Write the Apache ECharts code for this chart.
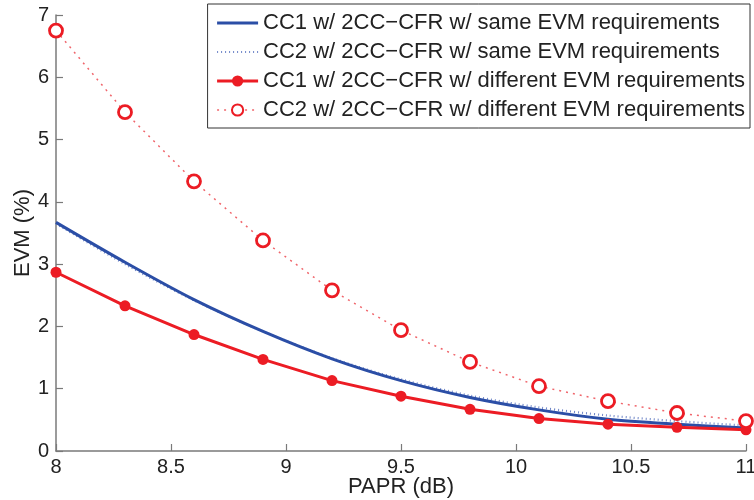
<!DOCTYPE html>
<html>
<head>
<meta charset="utf-8">
<script src="https://cdn.jsdelivr.net/npm/echarts@6/dist/echarts.min.js"></script>
<style>
  html, body { margin: 0; padding: 0; background: #fff; }
  #chart { width: 754px; height: 500px; }
</style>
</head>
<body>
<div id="chart"></div>
<script>
// PAPR target values (dB)
const papr = [8, 8.3, 8.6, 8.9, 9.2, 9.5, 9.8, 10.1, 10.4, 10.7, 11];

// EVM (%) per component carrier
const cc1Same = [3.67, 3.03, 2.43, 1.92, 1.48, 1.13, 0.86, 0.66, 0.51, 0.43, 0.37];
const cc2Same = [3.65, 3.00, 2.42, 1.92, 1.49, 1.15, 0.89, 0.70, 0.57, 0.48, 0.41];
const cc1Diff = [2.87, 2.33, 1.87, 1.47, 1.13, 0.88, 0.67, 0.52, 0.43, 0.38, 0.34];
const cc2Diff = [6.75, 5.44, 4.33, 3.38, 2.58, 1.94, 1.43, 1.04, 0.80, 0.61, 0.48];

const seriesNames = [
  'CC1 w/ 2CC\u2212CFR w/ same EVM requirements',
  'CC2 w/ 2CC\u2212CFR w/ same EVM requirements',
  'CC1 w/ 2CC\u2212CFR w/ different EVM requirements',
  'CC2 w/ 2CC\u2212CFR w/ different EVM requirements'
];

const xTicks = { min: 8, max: 11, interval: 0.5 };
const yTicks = { min: 0, max: 7, interval: 1 };

const pairs = arr => papr.map((x, i) => [x, arr[i]]);

const BLUE = '#2b4ea6';
const BLUE_DOT = '#6f86c8';
const RED = '#ec1c24';
const RED_DOT = '#f0656b';
const AXIS = '#7a7a7a';
const TEXT = '#222';
const FONT = '"Liberation Sans", Arial, sans-serif';

const chart = echarts.init(document.getElementById('chart'), null, { renderer: 'canvas' });

chart.setOption({
  animation: false,
  backgroundColor: '#fff',
  textStyle: { fontFamily: FONT },
  grid: { left: 56, right: 8, top: 15, bottom: 49, containLabel: false, outerBoundsMode: 'none' },
  legend: {
    right: 4,
    top: 4,
    orient: 'vertical',
    backgroundColor: '#fff',
    borderColor: '#333',
    borderWidth: 1,
    padding: [8, 5, 7, 8],
    itemWidth: 41,
    itemHeight: 14,
    itemGap: 7,
    textStyle: { fontSize: 22, color: TEXT, fontFamily: FONT },
    data: [
      { name: seriesNames[0], itemStyle: { opacity: 0 }, lineStyle: { width: 3 } },
      { name: seriesNames[1], itemStyle: { opacity: 0 }, lineStyle: { width: 2.2 } },
      { name: seriesNames[2], lineStyle: { width: 3 } },
      { name: seriesNames[3], lineStyle: { width: 1.5 } }
    ]
  },
  xAxis: {
    type: 'value',
    min: xTicks.min, max: xTicks.max, interval: xTicks.interval,
    name: 'PAPR (dB)',
    nameLocation: 'middle',
    nameGap: 25,
    nameMoveOverlap: false,
    nameTextStyle: { fontSize: 22, color: TEXT },
    axisLine: { lineStyle: { color: AXIS, width: 1.5 } },
    axisTick: { inside: true, length: 7, lineStyle: { color: AXIS, width: 1.2 } },
    axisLabel: { fontSize: 20, color: TEXT, margin: 6 },
    splitLine: { show: false }
  },
  yAxis: {
    type: 'value',
    min: yTicks.min, max: yTicks.max, interval: yTicks.interval,
    name: 'EVM (%)',
    nameLocation: 'middle',
    nameGap: 22,
    nameMoveOverlap: false,
    nameTextStyle: { fontSize: 22, color: TEXT },
    axisLine: { show: true, lineStyle: { color: AXIS, width: 1.5 } },
    axisTick: { show: true, inside: true, length: 7, lineStyle: { color: AXIS, width: 1.2 } },
    axisLabel: { fontSize: 20, color: TEXT, margin: 7 },
    splitLine: { show: false }
  },
  series: [
    {
      name: seriesNames[0],
      type: 'line',
      data: pairs(cc1Same),
      smooth: 0.3,
      showSymbol: false,
      symbol: 'none',
      lineStyle: { color: BLUE, width: 3 },
      itemStyle: { color: BLUE },
      z: 3
    },
    {
      name: seriesNames[1],
      type: 'line',
      data: pairs(cc2Same),
      smooth: 0.3,
      showSymbol: false,
      symbol: 'none',
      lineStyle: { color: BLUE_DOT, width: 2.2, type: [1, 3] },
      itemStyle: { color: BLUE_DOT },
      z: 2
    },
    {
      name: seriesNames[2],
      type: 'line',
      data: pairs(cc1Diff),
      symbol: 'circle',
      symbolSize: 11,
      lineStyle: { color: RED, width: 3 },
      itemStyle: { color: RED, borderWidth: 0 },
      z: 4
    },
    {
      name: seriesNames[3],
      type: 'line',
      data: pairs(cc2Diff),
      symbol: 'circle',
      symbolSize: 13,
      lineStyle: { color: RED_DOT, width: 1.5, type: [2, 5] },
      itemStyle: { color: '#fff', borderColor: RED, borderWidth: 2.8 },
      z: 5
    }
  ]
});
</script>
</body>
</html>
